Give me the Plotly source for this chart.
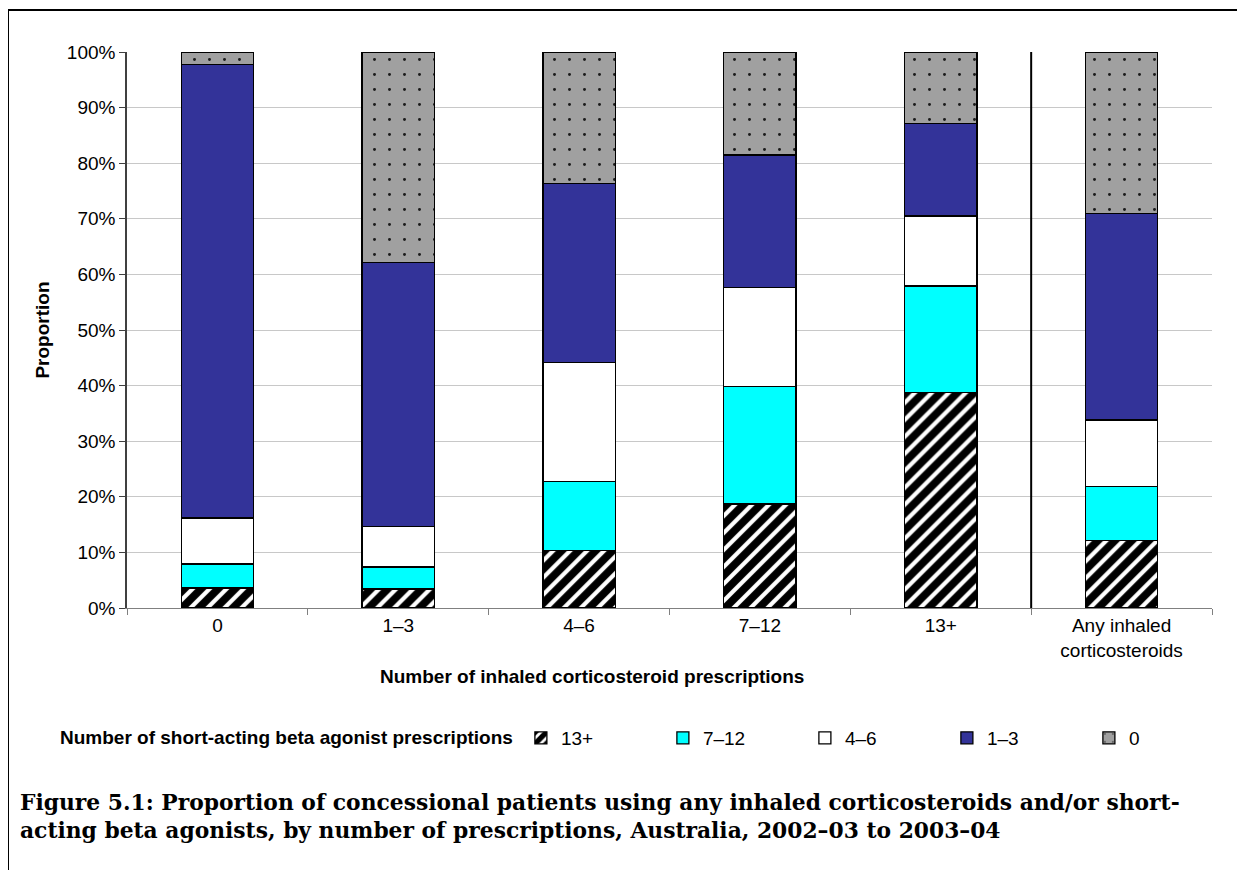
import plotly.graph_objects as go

categories = ["0", "1–3", "4–6", "7–12", "13+", "Any inhaled<br>corticosteroids"]
series_names = ["13+", "7–12", "4–6", "1–3", "0"]
v_13plus = [3.6, 3.4, 10.3, 18.7, 38.7, 12.1]
v_7_12 = [4.3, 4.0, 12.5, 21.2, 19.2, 9.8]
v_4_6 = [8.3, 7.3, 21.3, 17.7, 12.6, 11.9]
v_1_3 = [81.5, 47.4, 32.3, 23.9, 16.6, 37.1]
v_0 = [2.3, 37.9, 23.6, 18.5, 12.9, 29.1]
y_ticks = [0, 10, 20, 30, 40, 50, 60, 70, 80, 90, 100]
y_tick_labels = [f"{t}%" for t in y_ticks]

OFF = 8  # page body margin
W, H = 1245 - OFF, 870 - OFF
ML, MR, MT, MB = 127 - OFF, 33, 52 - OFF, 262
PW, PH = W - ML - MR, H - MT - MB


def px(x):
    return (x - OFF - ML) / PW


def py(y):
    return (H - MB - (y - OFF)) / PH


styles = [
    dict(color="white", pattern=dict(shape="/", fgcolor="black", bgcolor="white", size=12,
                                     solidity=0.65, fgopacity=1)),
    dict(color="#00FFFF"),
    dict(color="white"),
    dict(color="#333399"),
    dict(color="#A0A0A0", pattern=dict(shape=".", fgcolor="#1a1a1a", bgcolor="#A0A0A0", size=15,
                                       solidity=0.03, fgopacity=1)),
]
values = [v_13plus, v_7_12, v_4_6, v_1_3, v_0]

fig = go.Figure()
for name, vals, st in zip(series_names, values, styles):
    marker = dict(color=st["color"], line=dict(color="black", width=1.3))
    if "pattern" in st:
        marker["pattern"] = st["pattern"]
    fig.add_trace(go.Bar(x=categories, y=vals, name=name, marker=marker))

font = "Liberation Sans, Arial, sans-serif"
FS = 19
fig.update_layout(
    width=W, height=H,
    barmode="stack", bargap=0.6,
    margin=dict(l=ML, r=MR, t=MT, b=MB),
    paper_bgcolor="white", plot_bgcolor="white",
    font=dict(family=font, size=FS, color="black"),
    showlegend=True,
    legend=dict(
        orientation="h", x=px(58), y=py(738), xanchor="left", yanchor="middle",
        traceorder="normal", entrywidth=97, entrywidthmode="pixels",
        title=dict(text="<b>Number of short-acting beta agonist prescriptions</b>", side="left",
                   font=dict(size=FS)),
        font=dict(size=FS), itemwidth=30,
    ),
    xaxis=dict(
        type="category", showline=True, linecolor="#808080", linewidth=1,
        ticks="outside", tickson="boundaries", ticklen=6, tickcolor="#808080",
        tickfont=dict(size=FS), showgrid=False,
    ),
    yaxis=dict(
        range=[0, 100], tickvals=y_ticks, ticktext=y_tick_labels,
        showline=True, linecolor="#404040", linewidth=1.5,
        ticks="outside", ticklen=6, tickcolor="#404040",
        showgrid=True, gridcolor="#C8C8C8", gridwidth=1, zeroline=False,
        tickfont=dict(size=FS),
        title=dict(text="<b>Proportion</b>", font=dict(size=FS), standoff=12),
    ),
)

# separator between specific categories and "Any"
fig.add_shape(type="line", xref="x", yref="paper", x0=4.5, x1=4.5, y0=0, y1=1,
              line=dict(color="black", width=2))

# x-axis title
fig.add_annotation(text="<b>Number of inhaled corticosteroid prescriptions</b>",
                   xref="paper", yref="paper", x=px(592), y=py(676),
                   showarrow=False, font=dict(size=FS), xanchor="center", yanchor="middle")

# caption
fig.add_annotation(
    text="<b>Figure 5.1: Proportion of concessional patients using any inhaled corticosteroids and/or short-<br>acting beta agonists, by number of prescriptions, Australia, 2002–03 to 2003–04</b>",
    xref="paper", yref="paper", x=px(18), y=py(788), xanchor="left", yanchor="top",
    align="left", showarrow=False,
    font=dict(family="DejaVu Serif, serif", size=21.8, color="black"))

# frame lines (top and left)
fig.add_shape(type="line", xref="paper", yref="paper", x0=px(8), x1=px(1245), y0=py(10), y1=py(10),
              line=dict(color="black", width=2))
fig.add_shape(type="line", xref="paper", yref="paper", x0=px(8), x1=px(8), y0=py(10), y1=py(870),
              line=dict(color="black", width=2))

fig.write_html("out.html")
